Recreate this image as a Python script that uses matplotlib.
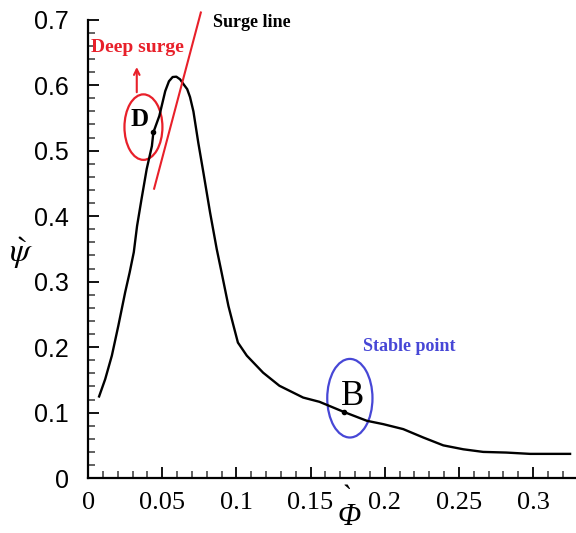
import matplotlib
matplotlib.use('Agg')
import matplotlib.pyplot as plt
from matplotlib.patches import Ellipse
from matplotlib.ticker import MultipleLocator

# Compressor characteristic (flow coefficient vs pressure-rise coefficient)
phi = [0.0074, 0.0115, 0.016, 0.0204, 0.025, 0.028, 0.0308, 0.033, 0.036, 0.0395,
       0.043, 0.044, 0.048, 0.052, 0.0545, 0.057, 0.0595, 0.062, 0.0645, 0.0668,
       0.0687, 0.071, 0.0743, 0.0777, 0.0822, 0.0867, 0.090, 0.0946, 0.098, 0.101,
       0.107, 0.118, 0.129, 0.145, 0.156, 0.1725, 0.188, 0.199, 0.2125, 0.226,
       0.2395, 0.253, 0.2664, 0.282, 0.298, 0.325]
psi = [0.1247, 0.151, 0.187, 0.233, 0.284, 0.314, 0.345, 0.385, 0.426, 0.472,
       0.507, 0.528, 0.553, 0.591, 0.606, 0.6125, 0.613, 0.609, 0.601, 0.594,
       0.582, 0.56, 0.512, 0.467, 0.406, 0.350, 0.314, 0.263, 0.233, 0.207,
       0.187, 0.161, 0.141, 0.123, 0.1165, 0.101, 0.0875, 0.0824, 0.0748, 0.062,
       0.050, 0.044, 0.040, 0.039, 0.037, 0.037]

# operating points D (deep surge) and B (stable)
point_names = ['D', 'B']
point_phi = [0.044, 0.1725]
point_psi = [0.528, 0.101]

# surge line end points
surge_phi = [0.0445, 0.076]
surge_psi = [0.442, 0.711]

x_ticks = [0, 0.05, 0.1, 0.15, 0.2, 0.25, 0.3]
x_labels = ['0', '0.05', '0.1', '0.15', '0.2', '0.25', '0.3']
y_ticks = [0, 0.1, 0.2, 0.3, 0.4, 0.5, 0.6, 0.7]
y_labels = ['0', '0.1', '0.2', '0.3', '0.4', '0.5', '0.6', '0.7']

red = '#e8202a'
blue = '#4747d6'

plt.rcParams['mathtext.fontset'] = 'stix'

fig = plt.figure(figsize=(5.76, 5.33), dpi=100)
ax = fig.add_axes([0.153, 0.103, 0.847, 0.86])

ax.plot(phi, psi, color='black', lw=1.7)
ax.plot(point_phi, point_psi, 'o', color='black', ms=3)

# surge line
ax.plot(surge_phi, surge_psi, color=red, lw=1.5, clip_on=False)
ax.text(0.0842, 0.695, 'Surge line', family='Liberation Serif', weight='bold',
        fontsize=13, ha='left', va='center')

# deep surge annotation
ax.add_patch(Ellipse((point_phi[0] - 0.0067, point_psi[0] + 0.008), 0.0256, 0.1,
                     fill=False, ec=red, lw=1.6))
ax.text(point_phi[0] - 0.0094, point_psi[0] + 0.019, point_names[0],
        family='Liberation Serif', weight='bold', fontsize=18, ha='center', va='center')
ax.annotate('', xy=(0.0328, 0.632), xytext=(0.0328, 0.585),
            arrowprops=dict(arrowstyle='->', color=red, lw=1.5))
ax.text(0.0018, 0.658, 'Deep surge', family='Liberation Serif', weight='bold',
        color=red, fontsize=14, ha='left', va='center', clip_on=False)

# stable point annotation
ax.add_patch(Ellipse((point_phi[1] + 0.004, point_psi[1] + 0.021), 0.0305, 0.12,
                     fill=False, ec=blue, lw=1.6))
ax.text(point_phi[1] + 0.006, point_psi[1] + 0.023, point_names[1],
        family='Liberation Serif', fontsize=25, ha='center', va='center')
ax.text(0.1853, 0.2005, 'Stable point', family='Liberation Serif', weight='bold',
        color=blue, fontsize=13, ha='left', va='center')

# axes styling
ax.set_xlim(0, 0.329)
ax.set_ylim(0, 0.7)
ax.set_xticks(x_ticks)
ax.set_xticklabels(x_labels, family='Liberation Serif', fontsize=19)
ax.set_yticks(y_ticks)
ax.set_yticklabels(y_labels, family='Liberation Sans', fontsize=18)
ax.xaxis.set_minor_locator(MultipleLocator(0.01))
ax.yaxis.set_minor_locator(MultipleLocator(0.02))
ax.tick_params(which='both', direction='in', width=1.3)
ax.tick_params(which='major', length=8)
ax.tick_params(which='minor', length=5, color='#555555')
ax.tick_params(axis='x', pad=10)
ax.tick_params(axis='y', pad=14)
for side in ['top', 'right']:
    ax.spines[side].set_visible(False)
for side in ['left', 'bottom']:
    ax.spines[side].set_linewidth(1.6)

# italic Phi with the grave accent on a line above it
ax.set_xlabel('` \n\u03a6', family='Liberation Serif', style='italic',
              fontsize=22, va='center', ha='center', linespacing=0.55)
ax.xaxis.set_label_coords(0.535, -0.066)
ax.set_ylabel(r'$\grave{\psi}$', fontsize=24, rotation=0, va='center', ha='center')
ax.yaxis.set_label_coords(-0.137, 0.49)

fig.savefig('out.png', dpi=100)
